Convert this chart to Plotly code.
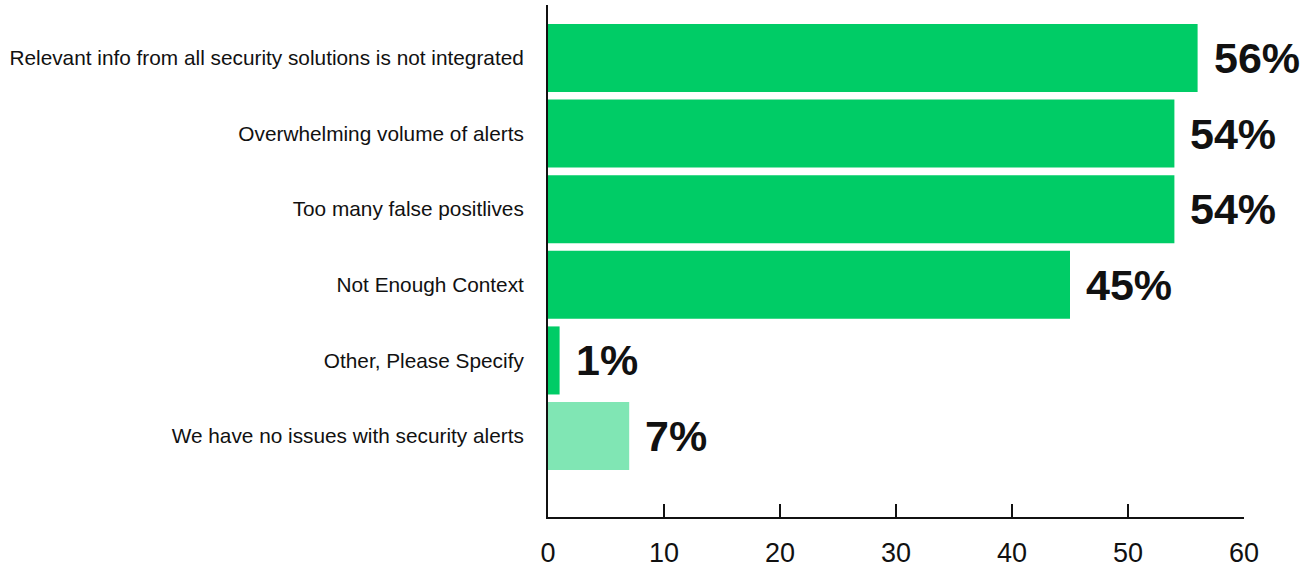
import plotly.graph_objects as go

categories = [
    "Relevant info from all security solutions is not integrated",
    "Overwhelming volume of alerts",
    "Too many false positlives",
    "Not Enough Context",
    "Other, Please Specify",
    "We have no issues with security alerts",
]
values = [56, 54, 54, 45, 1, 7]
labels = ["56%", "54%", "54%", "45%", "1%", "7%"]
colors = ["#00CC66", "#00CC66", "#00CC66", "#00CC66", "#00CC66", "#80E6B4"]
x_ticks = [0, 10, 20, 30, 40, 50, 60]

ypos = list(range(len(categories)))

fig = go.Figure()
fig.add_trace(go.Bar(
    x=values, y=ypos, orientation="h",
    marker=dict(color=colors, line=dict(width=0)),
    width=0.9, hoverinfo="skip",
))

for v, yv, lab in zip(values, ypos, labels):
    fig.add_annotation(
        x=v, y=yv, text=lab, showarrow=False, xanchor="left", yanchor="middle",
        xshift=14, font=dict(family="Liberation Sans", size=43, color="#111111", weight="bold"),
    )

fig.update_layout(
    width=1315, height=569,
    margin=dict(l=548, r=71, t=5, b=52),
    paper_bgcolor="white", plot_bgcolor="white",
    showlegend=False,
    bargap=0.1,
    xaxis=dict(
        range=[0, 60], tickvals=x_ticks, ticks="inside", ticklen=13, tickwidth=2,
        tickcolor="#111111", showline=True, linecolor="#111111", linewidth=2,
        showgrid=False, zeroline=False, ticklabelstandoff=11, automargin=False,
        tickfont=dict(family="Liberation Sans", size=27, color="#111111"),
    ),
    yaxis=dict(
        range=[6.07, -0.70], tickvals=ypos, ticktext=categories, ticks="",
        showline=True, linecolor="#111111", linewidth=2, showgrid=False, zeroline=False,
        ticklabelstandoff=18, automargin=False,
        tickfont=dict(family="Liberation Sans", size=20.8, color="#111111"),
    ),
)

fig.write_html("out.html")
